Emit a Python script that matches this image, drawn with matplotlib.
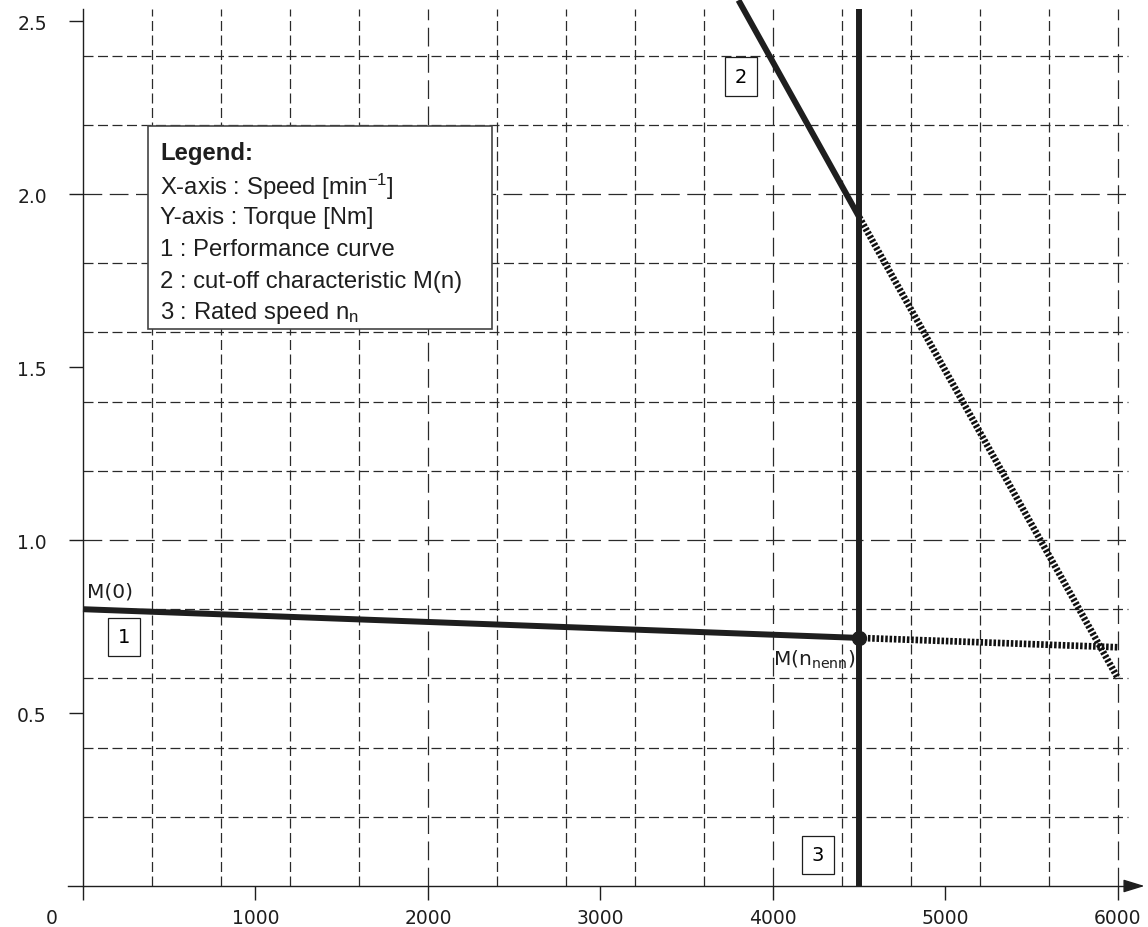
import matplotlib
matplotlib.use("Agg")
import matplotlib.pyplot as plt
from matplotlib.patches import Rectangle

# chart data
x_ticks = [0, 1000, 2000, 3000, 4000, 5000, 6000]
x_ticklabels = ["", "1000", "2000", "3000", "4000", "5000", "6000"]
y_ticks = [0.5, 1.0, 1.5, 2.0, 2.5]
y_ticklabels = ["0.5", "1.0", "1.5", "2.0", "2.5"]

grid_x = [400, 800, 1200, 1600, 2400, 2800, 3200, 3600, 4400, 4800, 5200, 5600]
grid_x_long = [2000, 4000, 6000]
grid_y = [0.2, 0.4, 0.6, 0.8, 1.2, 1.4, 1.6, 1.8, 2.2, 2.4]
grid_y_long = [1.0, 2.0]

# 1 : performance curve (solid up to rated speed, dotted beyond)
perf_x = [0, 4500]
perf_y = [0.80, 0.717]
perf_ext_x = [4500, 6000]
perf_ext_y = [0.717, 0.69]

# 2 : cut-off characteristic
cut_x = [3800, 4500]
cut_y = [2.56, 1.933]
cut_ext_x = [4500, 6000]
cut_ext_y = [1.933, 0.60]

# 3 : rated speed
n_rated = 4500
top = 2.535

legend_lines = ["X-axis : Speed [min$\\mathregular{^{-1}}$]",
                "Y-axis : Torque [Nm]",
                "1 : Performance curve",
                "2 : cut-off characteristic M(n)",
                "3 : Rated speed n$\\mathregular{_n}$"]

ink = "#1e1e1e"
grid_col = "#2a2a2a"

fig = plt.figure(figsize=(11.48, 9.28), dpi=100)
ax = fig.add_axes([0, 0, 1, 1])
ax.set_xlim(-481, 6174)
ax.set_ylim(-0.1185, 2.5636)

# axes as drawn in the sheet
for s in ["top", "right"]:
    ax.spines[s].set_visible(False)
ax.spines["left"].set_position(("data", 0))
ax.spines["left"].set_bounds(0, top)
ax.spines["bottom"].set_position(("data", 0))
ax.spines["bottom"].set_bounds(-87, 6080)
for s in ["left", "bottom"]:
    ax.spines[s].set_color(ink)
    ax.spines[s].set_linewidth(1.0)
ax.annotate("", xy=(6170, 0), xytext=(6060, 0),
            arrowprops=dict(arrowstyle="-|>,head_length=0.65,head_width=0.2",
                            mutation_scale=20, color=ink, lw=1.0))

ax.set_xticks(x_ticks)
ax.set_xticklabels(x_ticklabels)
ax.set_yticks(y_ticks)
ax.set_yticklabels(y_ticklabels)
ax.tick_params(axis="x", direction="out", length=10, width=1.0, pad=6,
               labelsize=13.5, colors=ink)
ax.tick_params(axis="y", direction="out", length=10, width=1.0, pad=16,
               labelsize=13.5, colors=ink)
ax.text(-180, -0.064, "0", ha="center", va="top", fontsize=13.5, color=ink)

# dashed grid
ax.vlines(grid_x, 0, top, colors=grid_col, lw=0.9, linestyles=(0, (8, 3.6)), zorder=1)
ax.vlines(grid_x_long, 0, top, colors=grid_col, lw=0.9, linestyles=(0, (15, 6)), zorder=1)
ax.hlines(grid_y, 0, 6058, colors=grid_col, lw=0.9, linestyles=(0, (8, 3.6)), zorder=1)
ax.hlines(grid_y_long, 0, 6058, colors=grid_col, lw=0.9, linestyles=(0, (15, 6)), zorder=1)

# curves
ax.plot(perf_x, perf_y, color=ink, lw=4.3, solid_capstyle="butt", zorder=5)
ax.plot(cut_x, cut_y, color=ink, lw=4.3, solid_capstyle="butt", zorder=5)
ax.plot(perf_ext_x, perf_ext_y, color="#111111", lw=4.8, linestyle=(0, (0.38, 0.27)),
        dash_capstyle="butt", zorder=5)
ax.plot(cut_ext_x, cut_ext_y, color="#111111", lw=4.8, linestyle=(0, (0.38, 0.27)),
        dash_capstyle="butt", zorder=5)
ax.vlines(n_rated, 0, top, colors=ink, lw=4.3, zorder=5)
ax.plot([n_rated], [perf_y[1]], "o", color=ink, markersize=10, zorder=6)

ax.text(25, 0.853, "M(0)", ha="left", va="center", fontsize=14.5, color=ink)
ax.text(4478, 0.656, "M(n$\\mathregular{_{nenn}}$)", ha="right", va="center",
        fontsize=14.5, color=ink)

box = dict(boxstyle="square,pad=0.5", fc="white", ec=ink, lw=0.9)
ax.text(238, 0.72, "1", ha="center", va="center", fontsize=14, bbox=box, zorder=7)
ax.text(3815, 2.34, "2", ha="center", va="center", fontsize=14, bbox=box, zorder=7)
ax.text(4260, 0.09, "3", ha="center", va="center", fontsize=14, bbox=box, zorder=7)

# legend block
ax.add_patch(Rectangle((377, 1.61), 1994, 0.587, fc="white", ec="#444444",
                       lw=1.2, zorder=3))
ax.text(446, 2.121, "Legend:", ha="left", va="center", fontsize=17.2,
        fontweight="bold", family="Liberation Sans", color=ink, zorder=4)
legend_y = [2.023, 1.934, 1.841, 1.749, 1.659]
for ty, line in zip(legend_y, legend_lines):
    ax.text(446, ty, line, ha="left", va="center", fontsize=17.2,
            family="Liberation Sans", color=ink, zorder=4)

fig.savefig("out.png", dpi=100)
plt.close("all")
